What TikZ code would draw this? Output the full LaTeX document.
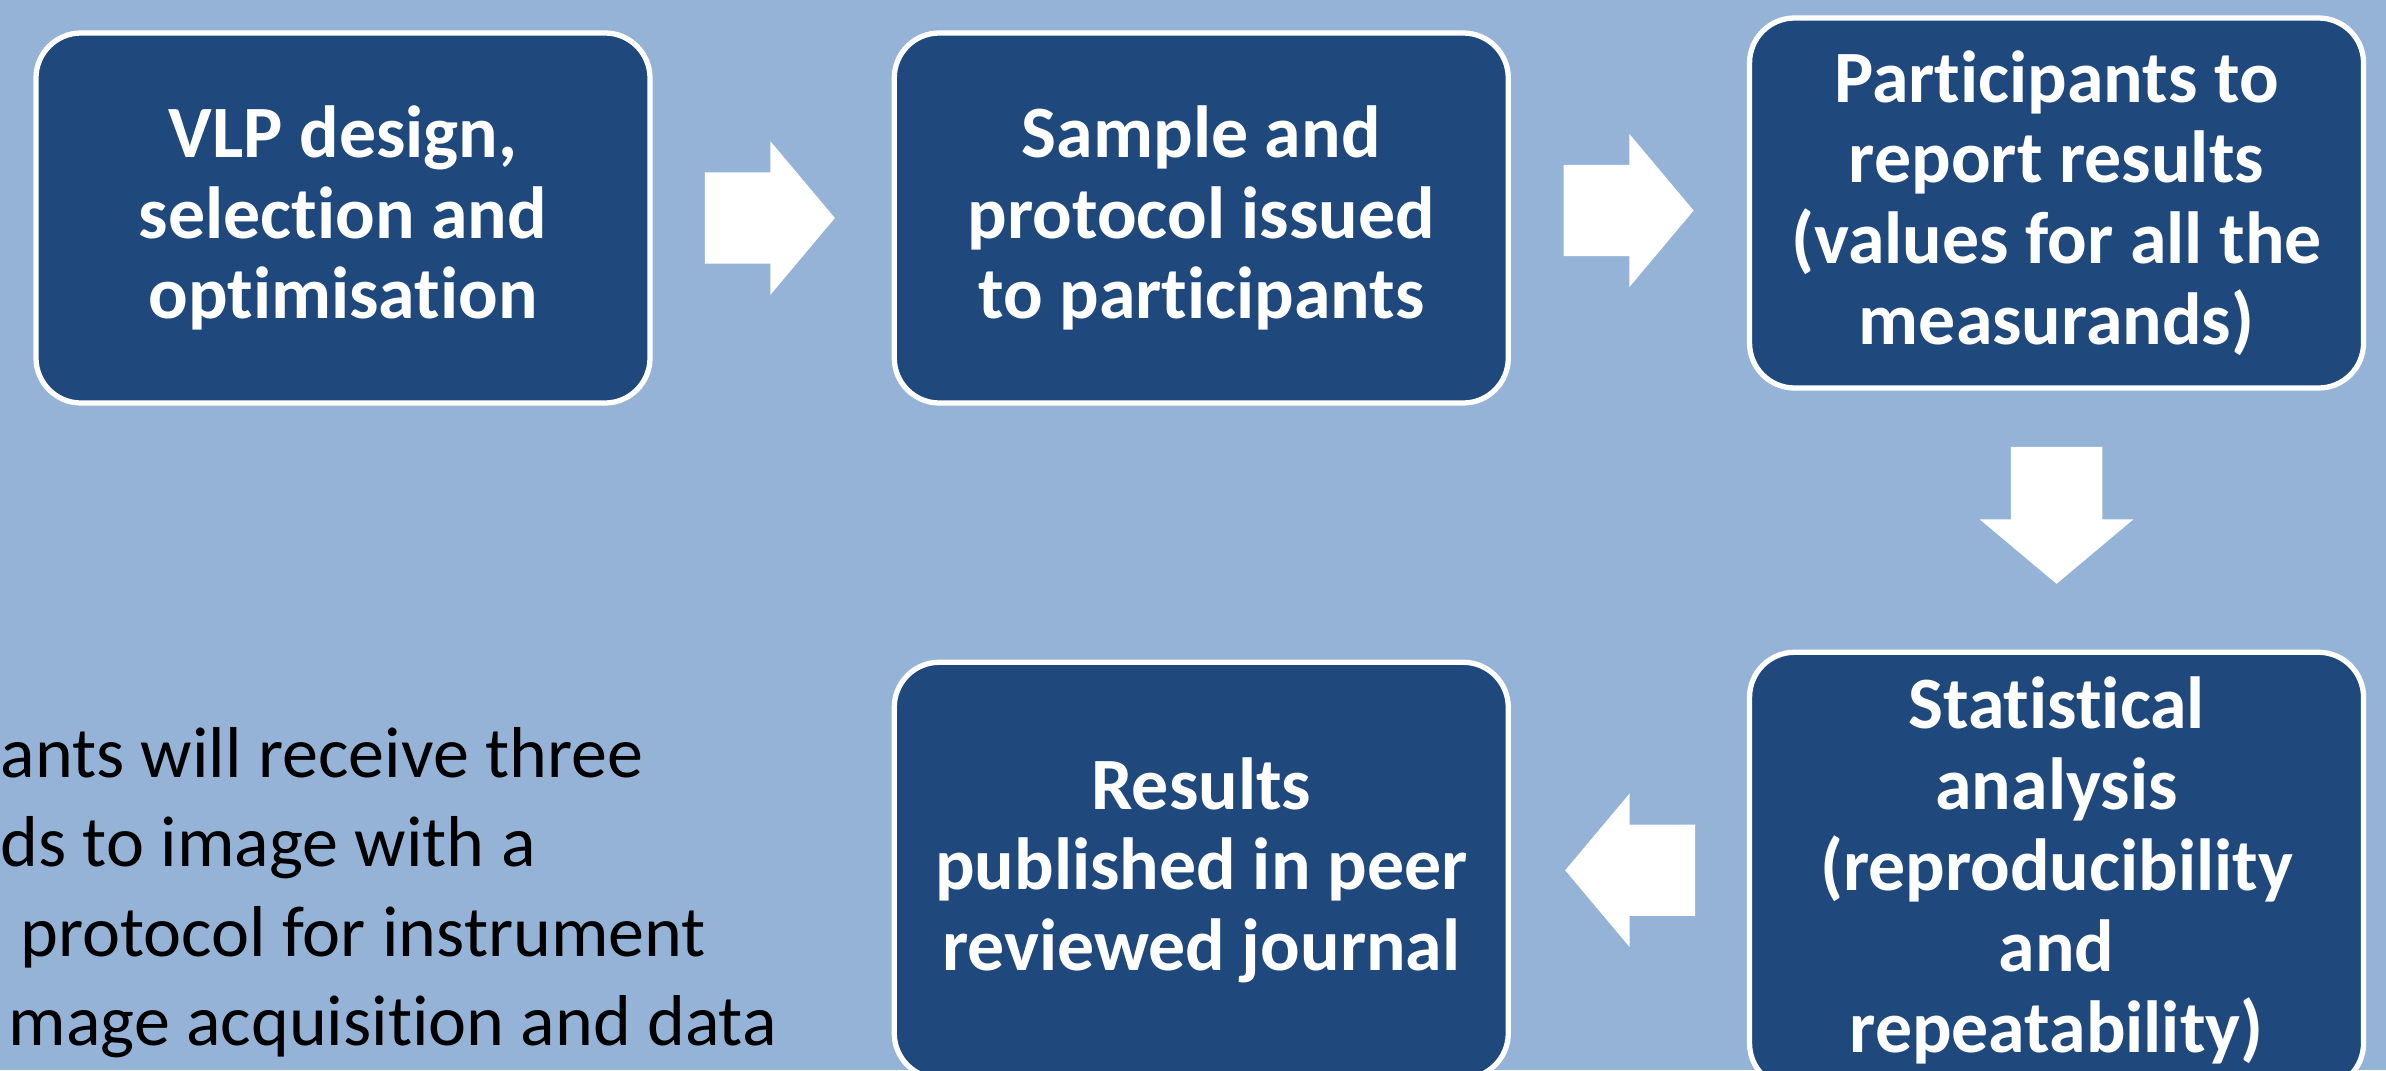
\documentclass[tikz,border=0pt]{standalone}
\usepackage{fontspec}
\setmainfont{Carlito}[Ligatures={NoCommon,NoContextual}]
\usetikzlibrary{positioning,shapes.arrows,calc}

\definecolor{slideblue}{HTML}{95B3D7}
\definecolor{stepblue}{HTML}{1F497D}

\tikzset{
    stage/.style={draw=white, line width=1.5pt, fill=stepblue, rounded corners=4.5mm,
        text=white, font=\fontsize{21}{23}\selectfont\bfseries, align=center,
        minimum width=61.4mm, minimum height=37mm, inner sep=2mm},
    flow/.style={single arrow, fill=white, draw=none, inner xsep=0pt, inner ysep=4.5mm,
        minimum height=13mm, single arrow head extend=3.1mm, single arrow tip angle=100,
        anchor=tail},
    note/.style={anchor=base west, inner sep=0pt, font=\fontsize{20.5}{25}\selectfont}
}

\begin{document}
\begin{tikzpicture}[x=0.1mm, y=-0.1mm]
    % Background
    \fill [slideblue] (0,0) rectangle (2386,1070);
    \useasboundingbox (0,0) rectangle (2386,1070);

    % Nodes {design, issue, report, stats, publish}
    \node [stage] 		(design)  at (343,218)                        {VLP design,\\selection and\\optimisation};
    \node [stage] 		(issue)   [right=23.9mm of design]            {Sample and\\protocol issued\\to participants};
    \node [stage] 		(report)  [right=23.6mm of issue, yshift=1.5mm] {Participants to\\report results\\(values for all the\\measurands)};
    \node [stage, minimum height=43.6mm] (stats)   [below=25.9mm of report] {Statistical\\analysis\\(reproducibility\\and\\repeatability)};
    \node [stage, minimum height=41.6mm] (publish) [left=23.6mm of stats]   {Results\\published in peer\\reviewed journal};

    % Arrows (placed by their tails)
    \node [flow]                                 (a1) at ($(design.east)!0.5!(issue.west)+(-68,0)$)   {};
    \node [flow]                                 (a2) at ($(issue.east)!0.5!(report.west)+(-66,0)$)   {};
    \node [flow, rotate=-90, minimum height=13.7mm] (a3) at ($(report.south)!0.5!(stats.north)+(0,-74)$) {};
    \node [flow, rotate=180]                     (a4) at ($(stats.west)!0.5!(publish.east)+(67,0)$)   {};

    % Side text
    \node [note] (note1) at (0,777)   {ants will receive three};
    \node [note] (note2) at (0,866)   {ds to image with a};
    \node [note] (note3) at (20,956)  {protocol for instrument};
    \node [note] (note4) at (8,1045)  {mage acquisition and data};
\end{tikzpicture}
\end{document}
